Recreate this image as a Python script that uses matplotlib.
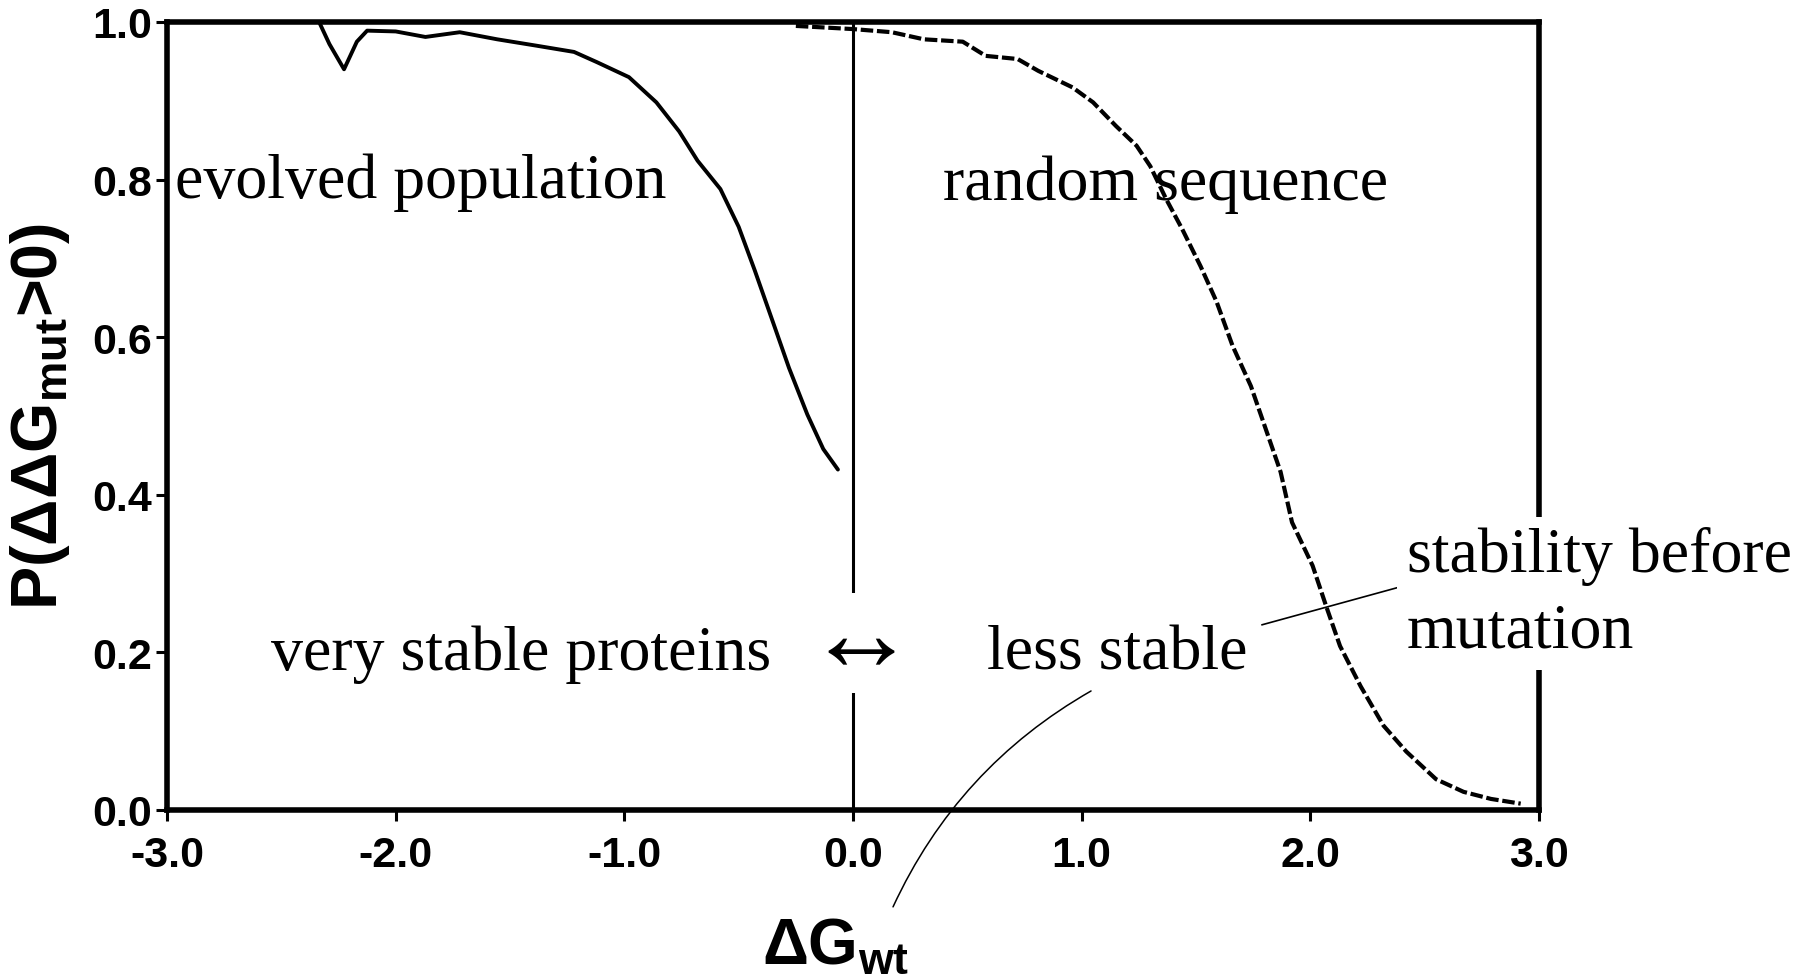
import numpy as np
import matplotlib
matplotlib.use('Agg')
import matplotlib.pyplot as plt

evolved_x = [-2.335, -2.29, -2.226, -2.17, -2.125, -2.0, -1.87, -1.72, -1.556, -1.386, -1.22, -1.12,
             -0.98, -0.86, -0.76, -0.68, -0.58, -0.50, -0.43, -0.35, -0.28, -0.20, -0.13, -0.066]
evolved_y = [1.0, 0.972, 0.940, 0.975, 0.989, 0.988, 0.981, 0.987, 0.978, 0.970, 0.962, 0.949,
             0.930, 0.898, 0.861, 0.824, 0.788, 0.740, 0.685, 0.619, 0.561, 0.502, 0.458, 0.432]

random_x = [-0.25, 0.0, 0.17, 0.31, 0.48, 0.58, 0.72, 0.81, 0.86, 0.96, 1.05, 1.15, 1.24, 1.30, 1.37,
            1.44, 1.52, 1.59, 1.66, 1.74, 1.87, 1.92, 2.01, 2.07, 2.13, 2.22, 2.32, 2.42, 2.55, 2.67,
            2.79, 2.92]
random_y = [0.995, 0.991, 0.987, 0.978, 0.975, 0.957, 0.953, 0.938, 0.931, 0.917, 0.898, 0.868, 0.843,
            0.817, 0.775, 0.737, 0.690, 0.645, 0.589, 0.538, 0.429, 0.365, 0.310, 0.258, 0.208, 0.157,
            0.107, 0.074, 0.039, 0.023, 0.014, 0.008]

xticks = [-3, -2, -1, 0, 1, 2, 3]
xtick_labels = ['-3.0', '-2.0', '-1.0', '0.0', '1.0', '2.0', '3.0']
yticks = [0.0, 0.2, 0.4, 0.6, 0.8, 1.0]
ytick_labels = ['0.0', '0.2', '0.4', '0.6', '0.8', '1.0']

plt.rcParams['mathtext.fontset'] = 'custom'
plt.rcParams['mathtext.rm'] = 'Liberation Sans:bold'
plt.rcParams['mathtext.it'] = 'Liberation Sans:bold'
plt.rcParams['mathtext.bf'] = 'Liberation Sans:bold'

fig = plt.figure(figsize=(18.08, 9.78), dpi=100)
ax = fig.add_axes([0.0924, 0.1708, 0.7588, 0.8057])

ax.axvline(0, color='black', lw=2.2, zorder=2)
ax.plot(evolved_x, evolved_y, color='black', lw=2.8, solid_capstyle='round')
ax.plot(random_x, random_y, color='black', lw=3, linestyle=(0, (3, 0.9)))

ax.set_xlim(-3, 3)
ax.set_ylim(0, 1)
for s in ax.spines.values():
    s.set_linewidth(4)

ax.set_xticks(xticks)
ax.set_xticklabels(xtick_labels)
ax.set_yticks(yticks)
ax.set_yticklabels(ytick_labels)
ax.tick_params(axis='both', direction='out', length=8, width=2.2)
ax.tick_params(axis='y', pad=3)
ax.tick_params(axis='x', pad=10)
for lab in ax.get_xticklabels() + ax.get_yticklabels():
    lab.set_fontfamily('Liberation Sans')
    lab.set_fontweight('bold')
    lab.set_fontsize(31)

ax.set_ylabel('P(\u0394\u0394G$_{\\mathrm{mut}}$>0)', fontsize=46.5,
              family='Liberation Sans', weight='bold')
ax.yaxis.set_label_coords(-0.069, 0.501)
ax.set_xlabel('\u0394G$_{\\mathrm{wt}}$', fontsize=46, family='Liberation Sans', weight='bold')
ax.xaxis.set_label_coords(0.487, -0.134)

serif = ['Liberation Serif', 'DejaVu Serif']
fs = 46
ax.text(-2.965, 0.778, 'evolved population', family=serif, fontsize=fs, va='baseline')
ax.text(0.394, 0.775, 'random sequence', family=serif, fontsize=fs, va='baseline')
ax.text(-2.545, 0.179, 'very stable proteins', family=serif, fontsize=fs, va='baseline')
ax.text(0.586, 0.179, 'less stable', family=serif, fontsize=fs, va='baseline')
ax.text(0.035, 0.212, '\u2194', family=serif, fontsize=80, ha='center', va='center',
        bbox=dict(boxstyle='square,pad=0.0', fc='white', ec='none'))
ax.text(2.423, 0.303, 'stability before', family=serif, fontsize=fs, va='baseline',
        bbox=dict(boxstyle='square,pad=0.15', fc='white', ec='none'))
ax.text(2.423, 0.208, 'mutation', family=serif, fontsize=fs, va='baseline',
        bbox=dict(boxstyle='square,pad=0.15', fc='white', ec='none'))

# linie od podpisow
ax.plot([1.789, 2.423], [0.235, 0.2855], color='black', lw=1.2)
ax.annotate('', xy=(0.175, -0.123), xytext=(1.041, 0.151),
            arrowprops=dict(arrowstyle='-', connectionstyle='arc3,rad=0.16', lw=1.1,
                            shrinkA=0, shrinkB=0, color='black'),
            annotation_clip=False)

plt.savefig('out.png', dpi=100)
